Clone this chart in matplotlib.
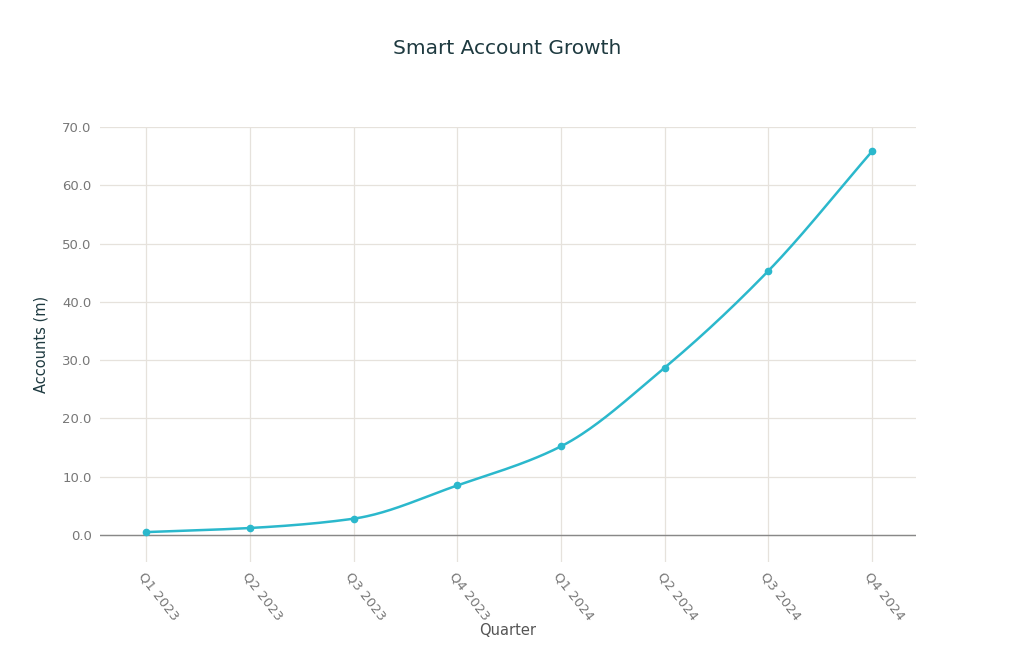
import numpy as np
import matplotlib
matplotlib.use("Agg")
import matplotlib.pyplot as plt

quarters = ["Q1 2023","Q2 2023","Q3 2023","Q4 2023","Q1 2024","Q2 2024","Q3 2024","Q4 2024"]
accounts = [0.5, 1.2, 2.8, 8.5, 15.2, 28.7, 45.3, 65.8]

def monotone(x, y, n=40):
    x = np.asarray(x, float); y = np.asarray(y, float)
    h = np.diff(x); d = np.diff(y) / h
    m = np.zeros_like(y)
    m[0], m[-1] = d[0], d[-1]
    for i in range(1, len(y) - 1):
        if d[i-1] * d[i] > 0:
            m[i] = 2 / (1/d[i-1] + 1/d[i])
    xs, ys = [], []
    for i in range(len(h)):
        t = np.linspace(0, 1, n)
        h00 = 2*t**3 - 3*t**2 + 1; h10 = t**3 - 2*t**2 + t
        h01 = -2*t**3 + 3*t**2; h11 = t**3 - t**2
        xs.append(x[i] + t*h[i])
        ys.append(h00*y[i] + h10*h[i]*m[i] + h01*y[i+1] + h11*h[i]*m[i+1])
    return np.concatenate(xs), np.concatenate(ys)

W, H = 1010, 652
fig = plt.figure(figsize=(W/100, H/100), dpi=100)
ax = fig.add_axes([100/W, (H-562)/H, 816/W, 435/H])
x = np.arange(len(quarters))
sx, sy = monotone(x, accounts)
color = "#2BB8CC"
ax.plot(sx, sy, color=color, lw=1.8, zorder=3)
ax.plot(x, accounts, "o", color=color, ms=4.5, zorder=4)
ax.set_xlim(-0.445, 7.425)
ppu = 408/70
ax.set_ylim(-(562-535)/ppu, 70)
ax.set_yticks(np.arange(0, 71, 10))
ax.set_yticklabels([f"{v:.1f}" for v in range(0, 71, 10)])
ax.set_xticks(x)
ax.set_xticklabels(quarters, rotation=-52, ha="left", va="top", rotation_mode="anchor")
ax.grid(True, color="#e6e2dc", lw=0.9)
ax.axhline(0, color="#888888", lw=1, zorder=2)
for s in ax.spines.values():
    s.set_visible(False)
ax.tick_params(length=0, colors="#777777", labelsize=9.5, pad=6)
ax.set_xlabel("Quarter", color="#555555", fontsize=10.5, labelpad=0)
ax.set_ylabel("Accounts (m)", color="#1e3a40", fontsize=10.5, labelpad=10)
fig.text(507/W, 1-48/H, "Smart Account Growth", ha="center", va="center", fontsize=14.5, color="#1e3a40")
fig.savefig("out.png", dpi=100)
